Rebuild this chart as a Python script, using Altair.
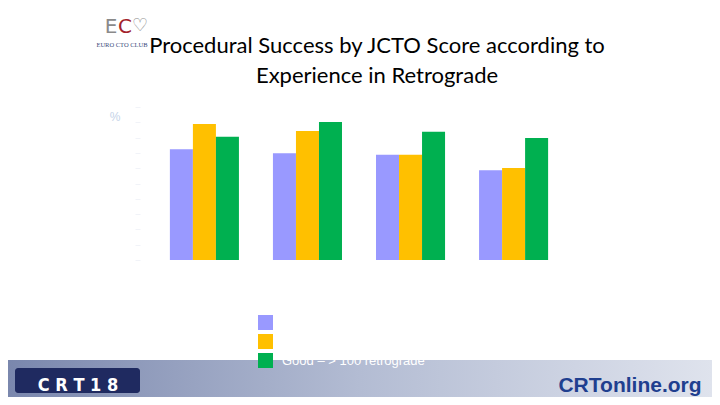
import altair as alt
import pandas as pd

# ---- data ----
groups = ["Easy (0)", "Intermediate (1)", "Difficult (2)", "Very difficult (≥3)"]
series = ["Low – < 50 retrograde", "Intermediate – 50-100 retrograde", "Good – > 100 retrograde"]
low_vals = [72.4, 69.7, 68.8, 58.6]
mid_vals = [88.9, 84.3, 68.8, 60.1]
good_vals = [80.6, 90.2, 83.9, 79.7]
bar_colors = ["#9999ff", "#ffc000", "#00b050"]
y_ticks = [0, 10, 20, 30, 40, 50, 60, 70, 80, 90, 100]
title_lines = ["Procedural Success by JCTO Score according to", "Experience in Retrograde"]
y_label = "%"
logo_left = "CRT18"
logo_right = "CRTonline.org"
club_name = "EURO CTO CLUB"

rows = []
for s, vals in zip(series, [low_vals, mid_vals, good_vals]):
    for g, v in zip(groups, vals):
        rows.append({"group": g, "series": s, "value": v})
df = pd.DataFrame(rows)

# ---- layout ----
W, H = 438, 153
PL, PT = 132, 99
TOTAL_W, TOTAL_H = 704, 389
PR = TOTAL_W - PL - W
PB = TOTAL_H - PT - H

one = pd.DataFrame([{"k": 0}])


def text_layer(txt, x, y, **kw):
    return alt.Chart(pd.DataFrame([{"t": txt}])).mark_text(**kw).encode(
        text="t:N", x=alt.value(x), y=alt.value(y)
    )


band = alt.Chart(one).mark_rect(
    fill=alt.Gradient(
        gradient="linear",
        stops=[
            alt.GradientStop(color="#7a87ad", offset=0),
            alt.GradientStop(color="#b3bcd3", offset=0.5),
            alt.GradientStop(color="#dfe3ed", offset=1),
        ],
        x1=0, x2=1, y1=0, y2=0,
    )
).encode(x=alt.value(-PL), x2=alt.value(W + PR), y=alt.value(253), y2=alt.value(H + PB))

bars = alt.Chart(df).mark_bar().encode(
    x=alt.X(
        "group:N",
        sort=groups,
        scale=alt.Scale(paddingInner=0.33, paddingOuter=0.29),
        axis=alt.Axis(title=None, labelColor="white", domain=False, ticks=False,
                      labelAngle=0, labelFontSize=12, labelPadding=8),
    ),
    xOffset=alt.XOffset("series:N", sort=series, scale=alt.Scale(paddingInner=0, paddingOuter=0)),
    y=alt.Y(
        "value:Q",
        scale=alt.Scale(domain=[0, 100], nice=False),
        axis=alt.Axis(title=None, values=y_ticks, labelColor="white", tickColor="#f1f3f8",
                      domain=False, grid=False, labelFontSize=11),
    ),
    color=alt.Color(
        "series:N",
        sort=series,
        scale=alt.Scale(domain=series, range=bar_colors),
        legend=alt.Legend(
            orient="none", legendX=118, legendY=208, title=None,
            symbolType="square", symbolSize=225, symbolStrokeWidth=0,
            labelColor="white", labelFontSize=13, labelFont="Liberation Sans",
            rowPadding=4, labelOffset=9, padding=0,
        ),
    ),
)

title1 = text_layer(title_lines[0], 237, -61, font="Lato", fontSize=22, color="#000000", align="center")
title2 = text_layer(title_lines[1], 237, -31, font="Lato", fontSize=22, color="#000000", align="center")
ylab = text_layer(y_label, -25, 10, font="Liberation Sans", fontSize=12, color="#c5d3e8", align="center")

club_e = text_layer("E", -29, -80, font="DejaVu Sans", fontSize=20, color="#8a8a8a", align="center")
club_c = text_layer("C", -15, -80, font="DejaVu Sans", fontSize=20, color="#a3222b", align="center")
club_h = text_layer("♡", 0, -81, font="DejaVu Sans", fontSize=18, color="#8a8a8a", align="center")
club = text_layer(club_name, -18, -62, font="Liberation Serif", fontSize=6.5, color="#3a4a7a", align="center")

crt_box = alt.Chart(one).mark_rect(fill="#1f2a60", cornerRadius=3).encode(
    x=alt.value(-125), x2=alt.value(0), y=alt.value(261), y2=alt.value(286)
)
crt = text_layer(" ".join(logo_left), -62, 279, font="DejaVu Sans Condensed", fontSize=18,
                 fontWeight="bold", color="#ffffff", align="center")
crt_online = text_layer(logo_right, 490, 279, font="Liberation Sans", fontSize=21,
                        fontWeight="bold", color="#1f3f8f", align="center")

chart = alt.layer(
    band, bars, title1, title2, ylab, club_e, club_c, club_h, club, crt_box, crt, crt_online
).properties(
    width=W, height=H,
    autosize=alt.AutoSizeParams(type="none"),
    padding={"left": PL, "top": PT, "right": PR, "bottom": PB},
    background="white",
).configure_view(stroke=None)

chart.save("out.html", embed_options={"renderer": "svg", "actions": False})
